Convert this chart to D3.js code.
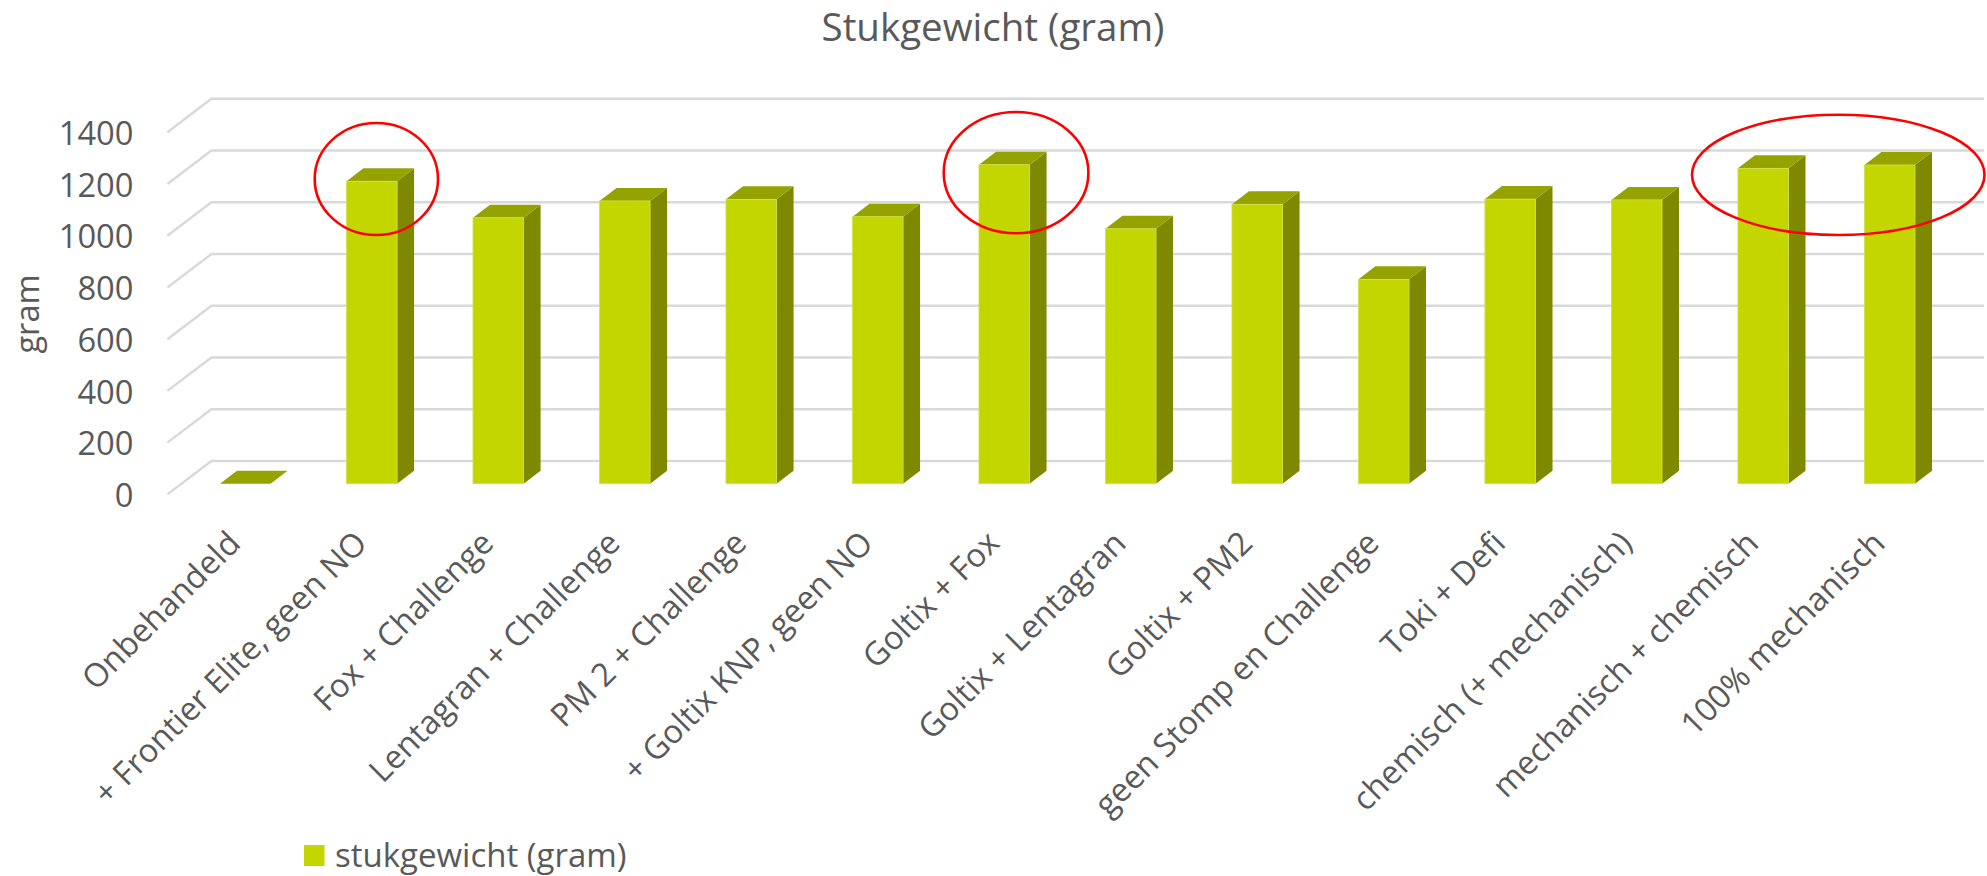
<!DOCTYPE html>
<html><head><meta charset="utf-8"><style>html,body{margin:0;background:#fff}svg{display:block}text{font-family:"Open Sans",sans-serif;fill:#595959}</style>
<script src="https://cdn.jsdelivr.net/npm/d3@7/dist/d3.min.js"></script></head><body><script>
const categories=["Onbehandeld","+ Frontier Elite, geen NO","Fox + Challenge","Lentagran + Challenge","PM 2 + Challenge","+ Goltix KNP, geen NO","Goltix + Fox","Goltix + Lentagran","Goltix + PM2","geen Stomp en Challenge","Toki + Defi","chemisch (+ mechanisch)","mechanisch + chemisch","100% mechanisch"];
const values=[0,1169,1028,1093,1099,1032,1233,985,1080,790,1100,1097,1219,1232];
const yTicks=[0,200,400,600,800,1000,1200,1400];
const seriesName="stukgewicht (gram)";
const titleText="Stukgewicht (gram)";
const yTitle="gram";
const W=1987,H=876;
const svg=d3.select("body").append("svg").attr("width",W).attr("height",H);
const depth={x:44,y:33.4}, barDepth={x:17,y:13};
const yFront=d3.scaleLinear().domain([0,1400]).range([494.4,132.2]);
const yBar=d3.scaleLinear().domain([0,1400]).range([483.7,121.5]);
const x=d3.scaleBand().domain(categories).range([220,1915]).paddingInner(0.6).paddingOuter(0);
const gridRight=1984;
svg.append("g").selectAll("path").data(yTicks).join("path")
 .attr("d",d=>{const y=yFront(d);return `M${167.4},${y}L${167.4+depth.x},${y-depth.y}H${gridRight}`;})
 .attr("fill","none").attr("stroke","#d9d9d9").attr("stroke-width",2.4);
const bars=svg.append("g").selectAll("g").data(categories).join("g");
const bw=x.bandwidth();
bars.append("path").attr("fill","#7f8900").attr("d",(c,i)=>{const a=x(c)+bw,t=yBar(values[i]),b=yBar(0);return values[i]?`M${a},${t}l${barDepth.x},${-barDepth.y}V${b-barDepth.y}L${a},${b}Z`:"";});
bars.append("path").attr("fill","#95a300").attr("d",(c,i)=>{const a=x(c),t=yBar(values[i]);return `M${a},${t}l${barDepth.x},${-barDepth.y}h${bw}l${-barDepth.x},${barDepth.y}Z`;});
bars.append("rect").attr("fill","#c3d600").attr("stroke","#d3e04a").attr("stroke-width",.8).attr("x",c=>x(c)).attr("width",bw).attr("y",(c,i)=>yBar(values[i])).attr("height",(c,i)=>yBar(0)-yBar(values[i]));
svg.append("g").selectAll("text").data(yTicks).join("text").attr("x",133.5).attr("y",d=>yFront(d)).attr("dy","0.39em").attr("text-anchor","end").attr("font-size",32.7).text(d=>d);
svg.append("g").selectAll("text").data(categories).join("text").attr("text-anchor","end").attr("font-size",32.5)
 .attr("transform",c=>`translate(${x(c)+bw/2-19},${529}) rotate(-45)`).attr("dy","0.7em").text(c=>c);
svg.append("text").attr("x",993).attr("y",41.3).attr("text-anchor","middle").attr("font-size",38.5).text(titleText);
svg.append("text").attr("transform","translate(39,314) rotate(-90)").attr("text-anchor","middle").attr("font-size",32.5).text(yTitle);
svg.append("rect").attr("x",304).attr("y",845).attr("width",20.5).attr("height",21).attr("fill","#c3d600");
svg.append("text").attr("x",335).attr("y",867).attr("font-size",33).text(seriesName);
const ell=svg.append("g").attr("fill","none").attr("stroke","#ff0000").attr("stroke-width",2.6);
const ellipses=[[314.7,438,123,235],[943.7,1088.4,112,233.3],[1692,1984.5,114.7,235]];
ell.selectAll("ellipse").data(ellipses).join("ellipse").attr("cx",d=>(d[0]+d[1])/2).attr("cy",d=>(d[2]+d[3])/2).attr("rx",d=>(d[1]-d[0])/2).attr("ry",d=>(d[3]-d[2])/2);
</script></body></html>
